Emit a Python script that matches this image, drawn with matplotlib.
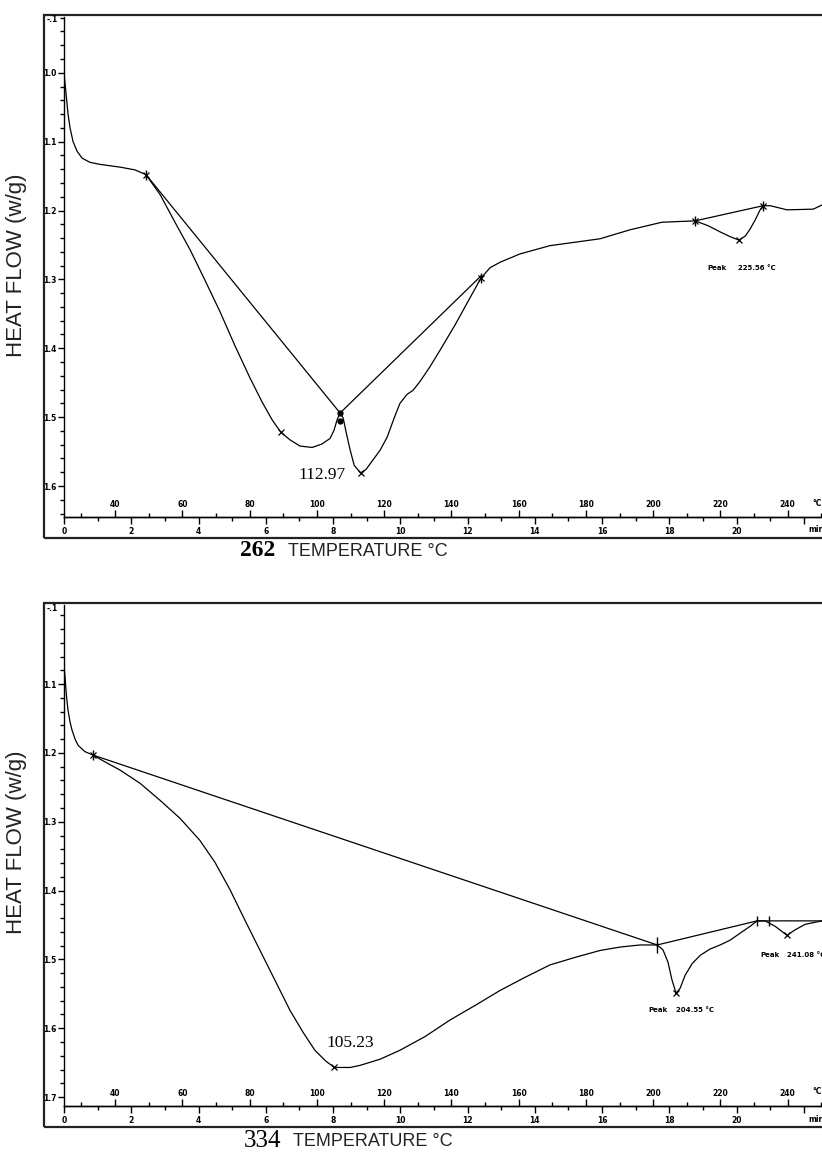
import matplotlib.pyplot as plt
from matplotlib.patches import Rectangle
from matplotlib.ticker import MultipleLocator, FixedLocator, FuncFormatter

W, H = 822, 1158

# --- sample 262 (top panel) ---
temp_262 = [24.8, 25.4, 26.0, 26.6, 27.5, 28.7, 30.2, 32.5, 35.5, 41.5, 45.9, 49.2,
            53.4, 57.8, 62.3, 66.7, 71.2, 75.7, 80.1, 83.7, 86.7, 89.3, 92.0, 95.0,
            98.6, 101.5, 103.9, 105.1, 106.0, 106.9, 107.8, 108.7, 109.9, 111.1,
            112.97, 114.6, 116.7, 118.8, 120.9, 123.0, 124.7, 126.8, 128.6, 130.7,
            133.6, 136.6, 141.1, 145.5, 148.8, 151.5, 154.5, 160.4, 169.3, 176.8,
            184.2, 193.1, 202.6, 212.5, 216.3, 219.9, 222.9, 225.56, 227.4, 228.8,
            230.3, 231.8, 232.7, 234.8, 239.8, 247.6, 250.2]
flow_262 = [1.000, 1.030, 1.060, 1.080, 1.100, 1.114, 1.124, 1.130, 1.133, 1.137, 1.141, 1.148,
            1.177, 1.217, 1.257, 1.301, 1.347, 1.397, 1.443, 1.478, 1.504, 1.522, 1.533, 1.542,
            1.544, 1.539, 1.531, 1.519, 1.504, 1.494, 1.501, 1.522, 1.548, 1.570,
            1.581, 1.576, 1.562, 1.548, 1.529, 1.501, 1.480, 1.467, 1.461, 1.448,
            1.427, 1.403, 1.366, 1.327, 1.298, 1.283, 1.275, 1.263, 1.251, 1.246,
            1.241, 1.228, 1.217, 1.215, 1.222, 1.231, 1.238, 1.243, 1.237, 1.227,
            1.214, 1.199, 1.193, 1.193, 1.199, 1.198, 1.192]
base_t_262 = [49.2, 106.9, 148.8]
base_f_262 = [1.148, 1.494, 1.295]
base2_t_262 = [212.5, 232.7]
base2_f_262 = [1.215, 1.193]
xmark_t_262 = [49.2, 89.3, 112.97, 148.8, 212.5, 225.56, 232.7]
xmark_f_262 = [1.148, 1.522, 1.581, 1.298, 1.215, 1.243, 1.193]
bar_t_262 = [49.2, 148.8, 212.5, 232.7]
bar_f_262 = [1.148, 1.298, 1.215, 1.193]
dot_t_262 = [106.9, 106.9]
dot_f_262 = [1.494, 1.505]

# --- sample 334 (bottom panel) ---
temp_334 = [24.8, 25.1, 25.4, 25.7, 26.0, 26.6, 27.2, 28.1, 29.0, 31.0, 33.4,
            37.0, 41.5, 47.4, 53.4, 59.3, 65.2, 69.7, 74.2, 78.6, 83.1, 87.5, 92.0,
            95.9, 99.4, 102.7, 105.23, 109.9, 112.8, 118.8, 124.7, 132.2, 139.6,
            147.0, 154.5, 161.9, 169.3, 176.8, 184.2, 190.2, 196.1, 201.2, 202.9,
            204.4, 205.6, 206.8, 208.0, 209.5, 211.6, 214.0, 216.9, 219.9, 222.9,
            225.8, 228.8, 230.9, 233.3, 236.3, 239.8, 242.2, 245.2, 250.2]
flow_334 = [1.072, 1.090, 1.109, 1.125, 1.138, 1.155, 1.167, 1.180, 1.189, 1.198, 1.203,
            1.213, 1.225, 1.244, 1.269, 1.295, 1.327, 1.359, 1.399, 1.443, 1.487, 1.530, 1.574,
            1.606, 1.632, 1.648, 1.657, 1.657, 1.654, 1.645, 1.632, 1.612, 1.588,
            1.567, 1.545, 1.526, 1.508, 1.497, 1.487, 1.482, 1.479, 1.479, 1.486,
            1.504, 1.530, 1.549, 1.542, 1.523, 1.506, 1.494, 1.485, 1.479, 1.472,
            1.462, 1.452, 1.444, 1.444, 1.452, 1.465, 1.457, 1.449, 1.444]
base_t_334 = [33.4, 201.2, 230.9, 250.2]
base_f_334 = [1.203, 1.479, 1.444, 1.444]
xmark_t_334 = [33.4, 105.23, 206.8, 239.8]
xmark_f_334 = [1.203, 1.657, 1.549, 1.465]
bar_t_334 = [33.4, 201.2, 201.2, 230.9, 234.5]
bar_f_334 = [1.203, 1.475, 1.483, 1.444, 1.444]

temp_ticks = [40, 60, 80, 100, 120, 140, 160, 180, 200, 220, 240]
time_ticks = [0, 2, 4, 6, 8, 10, 12, 14, 16, 18, 20, 22]
T0 = 24.8  # temperature at t = 0 min, 10 C/min


def frac(left, top, right, bottom):
    return [left / W, 1 - bottom / H, (right - left) / W, (bottom - top) / H]


fig = plt.figure(figsize=(W / 100, H / 100), dpi=100)
tick_font = dict(fontsize=5.5, fontweight='bold', family='DejaVu Sans')


def draw_panel(box, ylim, yticks, temp, flow, bt, bf, xt, xf, brt, brf, frame):
    ax = fig.add_axes(frac(*box))
    ax.plot(temp, flow, color='black', lw=0.9)
    ax.plot(bt, bf, color='black', lw=0.9)
    ax.plot(xt, xf, 'x', color='black', ms=4, mew=0.9)
    ax.plot(brt, brf, '|', color='black', ms=7, mew=1.0)
    ax.set_xlim(T0, 250.2)
    ax.set_ylim(*ylim)
    for s in ['top', 'right']:
        ax.spines[s].set_visible(False)
    ax.spines['left'].set_linewidth(1.0)
    ax.spines['bottom'].set_linewidth(1.0)

    # y axis: heat flow
    ax.yaxis.set_major_locator(FixedLocator(yticks))
    ax.yaxis.set_minor_locator(MultipleLocator(0.02))
    ax.yaxis.set_major_formatter(FuncFormatter(lambda v, p: f"{v:.1f}"))
    ax.tick_params(axis='y', which='major', direction='out', length=4.5, width=1, pad=0.8)
    ax.tick_params(axis='y', which='minor', direction='out', length=3, width=1)
    for lab in ax.get_yticklabels():
        lab.set(**tick_font)

    # x axis: temperature labels above the line
    ax.xaxis.set_major_locator(FixedLocator(temp_ticks))
    ax.xaxis.set_minor_locator(MultipleLocator(10))
    ax.tick_params(axis='x', which='major', direction='in', length=5, width=1, pad=-12)
    ax.tick_params(axis='x', which='minor', direction='in', length=3, width=1)
    for lab in ax.get_xticklabels():
        lab.set(**tick_font)

    # time axis below the line
    sec = ax.secondary_xaxis('bottom', functions=(lambda T: (T - T0) / 10,
                                                  lambda m: m * 10 + T0))
    sec.xaxis.set_major_locator(FixedLocator(time_ticks))
    sec.xaxis.set_minor_locator(MultipleLocator(1))
    sec.xaxis.set_major_formatter(FuncFormatter(lambda v, p: '' if v > 21 else f"{v:.0f}"))
    sec.tick_params(which='major', direction='out', length=5, width=1, pad=2.5)
    sec.tick_params(which='minor', direction='out', length=3, width=1)
    sec.spines['bottom'].set_linewidth(1.0)
    for lab in sec.get_xticklabels():
        lab.set(**tick_font)

    # outer frame around the plot and its labels
    fl, ft, fb = frame
    fig.add_artist(Rectangle((fl / W, 1 - fb / H), (860 - fl) / W, (fb - ft) / H,
                             transform=fig.transFigure, fill=False, lw=1.6,
                             edgecolor='#222222', clip_on=False))
    # end labels of the two scales
    ax_top, ax_bot = box[1], box[3]
    fig.text(817 / W, 1 - (ax_bot - 14) / H, '°C', ha='center', va='center', **tick_font)
    fig.text(816 / W, 1 - (ax_bot + 13) / H, 'min', ha='center', va='center', **tick_font)
    fig.text(52 / W, 1 - (ax_top + 3) / H, '-.1', ha='center', va='center', **tick_font)
    return ax


ax1 = draw_panel((64, 17, 822, 517), (1.645, 0.919), [1.0, 1.1, 1.2, 1.3, 1.4, 1.5, 1.6],
                 temp_262, flow_262, base_t_262, base_f_262, xmark_t_262, xmark_f_262,
                 bar_t_262, bar_f_262, (44, 15, 538))
ax1.plot(base2_t_262, base2_f_262, color='black', lw=0.9)
ax1.plot(dot_t_262, dot_f_262, 'o', color='black', ms=3.5)
ax1.text(101.5, 1.584, '112.97', ha='center', va='center', fontsize=12.5,
         family='Liberation Serif')
ax1.text(216.0, 1.283, 'Peak', ha='left', va='center', fontsize=5, fontweight='bold')
ax1.text(225.2, 1.283, '225.56 °C', ha='left', va='center', fontsize=5, fontweight='bold')

ax2 = draw_panel((64, 605, 822, 1106), (1.713, 0.985), [1.1, 1.2, 1.3, 1.4, 1.5, 1.6, 1.7],
                 temp_334, flow_334, base_t_334, base_f_334, xmark_t_334, xmark_f_334,
                 bar_t_334, bar_f_334, (44, 603, 1127))
ax2.text(109.9, 1.622, '105.23', ha='center', va='center', fontsize=12.5,
         family='Liberation Serif')
ax2.text(198.5, 1.574, 'Peak', ha='left', va='center', fontsize=5, fontweight='bold')
ax2.text(206.8, 1.574, '204.55 °C', ha='left', va='center', fontsize=5, fontweight='bold')
ax2.text(231.8, 1.494, 'Peak', ha='left', va='center', fontsize=5, fontweight='bold')
ax2.text(239.8, 1.494, '241.08 °C', ha='left', va='center', fontsize=5, fontweight='bold')

# axis titles
for yc in (265, 842):
    fig.text(17 / W, 1 - yc / H, 'HEAT FLOW (w/g)', rotation=90, ha='center', va='center',
             fontsize=16, family='Liberation Sans', color='#222222')
fig.text(258 / W, 1 - 551 / H, '262', ha='center', va='center', fontsize=17,
         fontweight='bold', family='Liberation Serif')
fig.text(288 / W, 1 - 551 / H, 'TEMPERATURE °C', ha='left', va='center', fontsize=13,
         family='Liberation Sans', color='#222222')
fig.text(262 / W, 1 - 1141 / H, '334', ha='center', va='center', fontsize=18,
         family='Liberation Serif')
fig.text(293 / W, 1 - 1141 / H, 'TEMPERATURE °C', ha='left', va='center', fontsize=13,
         family='Liberation Sans', color='#222222')

fig.savefig('out.png', dpi=100)
